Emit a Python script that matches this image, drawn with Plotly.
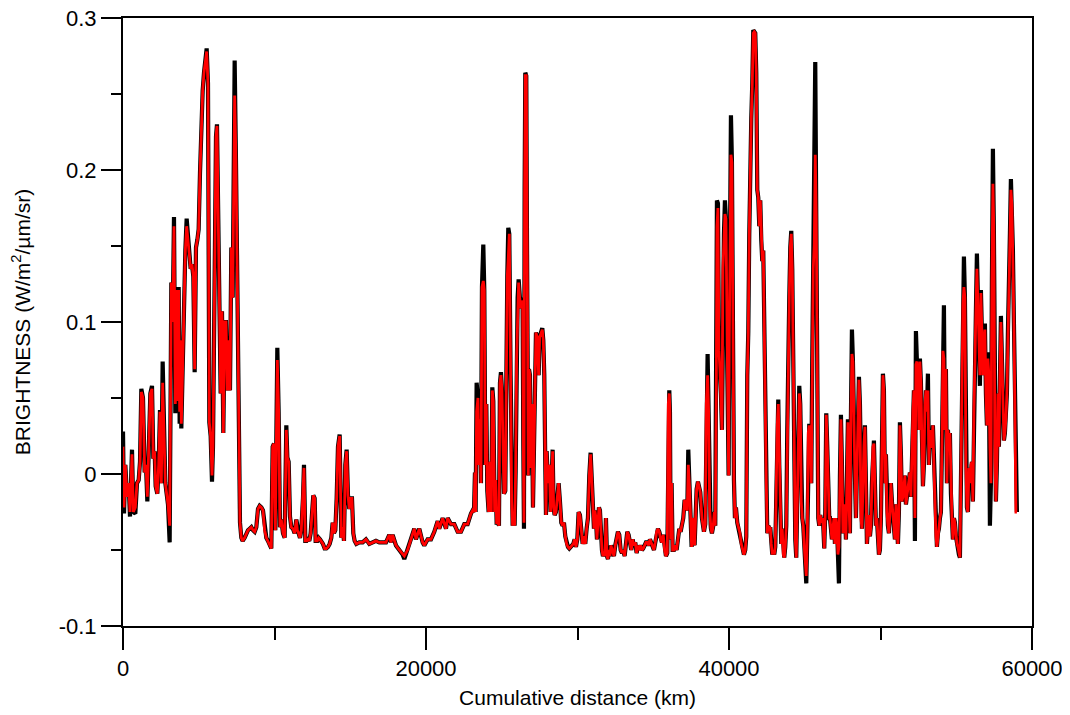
import plotly.graph_objects as go

# ---- data (cumulative distance in km, brightness values) ----
dist_1 = [0,66,154,264,374,462,594,682,814,924,1034,1122,1210,1320,1430,1518,1606,1716,1804,1914,2002,2090,2156,2266,2354,2442,2530,2618,2706,2794,2882,2970,3080,3190,3278,3366,3454,3542,3608,3674,3740,3806,3850,3938,4026,4114,4202,4290,4378,4466,4554,4642,4730,4818,4906,4994,5082,5170,5258,5346,5434,5522,5610,5654,5698,5786,5874,5940,6050,6138,6204,6270,6358,6446,6534,6622,6710,6798,6886,6974,7062,7150,7238,7326,7370,7458,7524,7590]
red_1 = [0.018,-0.022,0.006,-0.015,-0.006,-0.025,0.013,-0.025,-0.022,-0.006,-0.004,0.008,0.054,0.050,0.001,0.006,-0.015,0.027,0.053,0.056,0.010,0.015,-0.008,-0.013,0.006,0.041,-0.006,0.060,0.020,-0.006,-0.013,-0.020,-0.034,0.126,0.100,0.163,0.046,0.121,0.048,0.121,0.041,0.088,0.033,0.076,0.121,0.147,0.163,0.154,0.140,0.135,0.138,0.130,0.069,0.149,0.154,0.161,0.198,0.229,0.252,0.264,0.273,0.278,0.257,0.160,0.034,0.025,-0.001,0.018,0.158,0.222,0.229,0.182,0.093,0.053,0.107,0.027,0.100,0.100,0.055,0.088,0.055,0.149,0.116,0.205,0.249,0.205,0.150,0.109]
black_1 = [0.028,-0.026,0.006,-0.015,-0.006,-0.028,0.016,-0.025,-0.026,-0.006,-0.004,0.008,0.056,0.050,0.001,0.006,-0.018,0.027,0.053,0.058,0.010,0.015,-0.008,-0.013,0.006,0.042,-0.006,0.074,0.020,-0.006,-0.013,-0.020,-0.045,0.126,0.100,0.169,0.040,0.121,0.048,0.123,0.033,0.088,0.030,0.076,0.121,0.147,0.168,0.154,0.140,0.135,0.138,0.130,0.067,0.149,0.154,0.161,0.198,0.229,0.252,0.264,0.273,0.280,0.257,0.160,0.034,0.025,-0.005,0.018,0.158,0.222,0.230,0.182,0.093,0.053,0.107,0.027,0.100,0.100,0.055,0.088,0.055,0.149,0.116,0.205,0.272,0.205,0.150,0.117]

dist_2 = [7656,7722,7810,7898,8030,8140,8250,8360,8470,8580,8690,8800,8910,9020,9130,9240,9350,9460,9570,9680,9790,9878,9966,10054,10120,10186,10274,10362,10450,10560,10670,10780,10846,10934,11022,11110,11220,11330,11440,11506,11594,11682,11770,11880,11946,12034,12122,12210,12298,12386,12474,12562,12650,12716,12826,12914,13002,13090,13200,13310,13420,13530,13640,13750,13838,13926,14014,14102,14190,14300,14410,14498,14586,14674,14762,14850,14938,15026,15114,15202,15290,15400]
red_2 = [0.041,-0.032,-0.042,-0.044,-0.042,-0.039,-0.037,-0.036,-0.035,-0.037,-0.038,-0.035,-0.023,-0.021,-0.022,-0.024,-0.037,-0.042,-0.044,-0.046,-0.049,0.018,0.020,-0.037,0.006,0.075,0.041,-0.035,-0.030,-0.039,-0.042,0.029,0.011,0.008,-0.028,-0.035,-0.036,-0.039,-0.030,-0.037,-0.039,-0.042,-0.037,-0.016,0.004,-0.044,-0.044,-0.043,-0.044,-0.039,-0.028,-0.014,-0.016,-0.044,-0.044,-0.042,-0.043,-0.044,-0.046,-0.049,-0.049,-0.048,-0.046,-0.042,-0.032,-0.039,-0.037,-0.016,0.018,0.025,-0.042,-0.035,-0.044,0.006,0.015,-0.014,-0.023,-0.016,-0.016,-0.039,-0.044,-0.046]
black_2 = [0.041,-0.032,-0.042,-0.044,-0.042,-0.039,-0.037,-0.036,-0.035,-0.037,-0.038,-0.035,-0.023,-0.021,-0.022,-0.024,-0.037,-0.042,-0.044,-0.046,-0.049,0.018,0.020,-0.037,0.006,0.083,0.041,-0.035,-0.030,-0.039,-0.042,0.032,0.011,0.008,-0.028,-0.035,-0.036,-0.039,-0.030,-0.037,-0.039,-0.042,-0.037,-0.016,0.006,-0.044,-0.044,-0.043,-0.044,-0.039,-0.028,-0.014,-0.016,-0.044,-0.044,-0.042,-0.043,-0.044,-0.046,-0.049,-0.049,-0.048,-0.046,-0.042,-0.032,-0.039,-0.037,-0.016,0.018,0.026,-0.042,-0.035,-0.044,0.006,0.016,-0.014,-0.023,-0.016,-0.016,-0.039,-0.044,-0.046]

dist_3 = [15598,15818,16038,16258,16478,16698,16918,17138,17358,17578,17688,17798,18018,18238,18458,18568,18788,19008,19228,19338,19558,19778,19888,20108,20328,20548,20768,20878,21098,21318,21428,21648,21868,22088,22308,22528,22748,22968,23078]
red_3 = [-0.045,-0.045,-0.043,-0.046,-0.045,-0.044,-0.045,-0.045,-0.045,-0.040,-0.045,-0.040,-0.047,-0.050,-0.053,-0.054,-0.050,-0.043,-0.036,-0.043,-0.036,-0.045,-0.047,-0.043,-0.043,-0.038,-0.031,-0.036,-0.029,-0.036,-0.029,-0.033,-0.033,-0.038,-0.038,-0.033,-0.033,-0.026,-0.024]
black_3 = [-0.045,-0.045,-0.043,-0.046,-0.045,-0.044,-0.045,-0.045,-0.045,-0.040,-0.045,-0.040,-0.047,-0.050,-0.053,-0.056,-0.050,-0.043,-0.036,-0.043,-0.036,-0.045,-0.047,-0.043,-0.043,-0.038,-0.031,-0.036,-0.029,-0.036,-0.029,-0.033,-0.033,-0.038,-0.038,-0.033,-0.033,-0.026,-0.024]

dist_4 = [23166,23232,23276,23342,23430,23496,23562,23628,23694,23782,23848,23914,23980,24046,24134,24222,24310,24376,24442,24530,24596,24662,24750,24816,24882,24948,25014,25080,25146,25234,25300,25366,25432,25498,25586,25652,25718,25784,25850,25916,25982,26048,26114,26180,26246,26312,26378,26422,26466,26510,26554,26620,26664,26708,26752,26796,26862,26928,26994,27060,27126,27192,27258,27346,27434,27500,27588,27676,27742,27808,27874,27918,27962,28050,28138,28226,28292,28358,28424,28490,28578,28666,28754,28842,28930,29018,29106,29194,29282,29370,29458,29546,29634,29722,29810,29898,29986,30074,30162,30250,30338,30426,30514,30602,30690,30778,30866,30954,31042]
red_4 = [-0.025,0.001,-0.025,0.041,0.050,0.006,0.036,-0.006,0.123,0.127,0.121,0.006,0.046,-0.011,-0.025,0.008,-0.025,0.055,0.048,-0.025,-0.004,-0.032,-0.032,-0.034,0.060,0.065,0.055,0.006,-0.013,-0.011,0.081,0.130,0.142,0.158,0.065,-0.018,-0.034,-0.025,-0.034,0.001,0.076,0.116,0.126,0.116,0.109,0.114,0.112,0.022,-0.032,0.187,0.262,0.262,0.158,0.062,-0.001,0.069,0.065,0.004,0.046,-0.022,0.029,0.072,0.093,0.090,0.065,0.090,0.093,0.095,0.088,0.065,0.006,-0.027,0.015,-0.006,0.006,-0.025,-0.006,0.015,-0.022,-0.027,-0.025,-0.015,-0.006,-0.018,-0.032,-0.034,-0.032,-0.041,-0.046,-0.048,-0.049,-0.048,-0.047,-0.046,-0.043,-0.048,-0.043,-0.025,-0.027,-0.039,-0.046,-0.041,-0.046,-0.036,-0.029,-0.001,0.013,-0.006,-0.029]
black_4 = [-0.025,0.001,-0.025,0.060,0.050,0.006,0.036,-0.006,0.123,0.151,0.121,0.006,0.046,-0.011,-0.025,0.008,-0.025,0.057,0.048,-0.025,-0.004,-0.032,-0.032,-0.034,0.060,0.067,0.055,0.006,-0.013,-0.011,0.081,0.130,0.162,0.158,0.065,-0.018,-0.034,-0.025,-0.034,0.001,0.076,0.116,0.128,0.116,0.109,0.116,0.112,0.022,-0.036,0.187,0.264,0.262,0.158,0.062,-0.001,0.069,0.065,0.004,0.046,-0.022,0.029,0.072,0.093,0.090,0.065,0.090,0.093,0.096,0.088,0.065,0.006,-0.027,0.015,-0.006,0.006,-0.025,-0.006,0.016,-0.022,-0.027,-0.025,-0.015,-0.006,-0.018,-0.032,-0.034,-0.032,-0.041,-0.046,-0.048,-0.049,-0.048,-0.047,-0.046,-0.043,-0.048,-0.043,-0.025,-0.027,-0.039,-0.046,-0.041,-0.046,-0.036,-0.029,-0.001,0.014,-0.006,-0.029]

dist_5 = [31086,31152,31218,31284,31350,31416,31482,31548,31614,31680,31746,31812,31878,31944,32010,32076,32142,32208,32274,32340,32406,32494,32582,32670,32758,32846,32934,33022,33110,33198,33286,33374,33462,33550,33638,33726,33814,33902,33990,34078,34166,34254,34342,34430,34518,34606,34694,34782,34870,34958,35046,35134,35222,35310,35398,35486,35574,35662,35750,35838,35926,35992,36058,36102,36146,36212,36278,36366,36454,36542,36630,36718,36806,36894,36982,37070,37158,37246,37312,37400,37466,37532,37598,37664,37730,37796,37862,37950,38038,38104,38214,38346,38434,38500,38588,38654,38720,38786]
red_5 = [-0.036,-0.024,-0.029,-0.043,-0.033,-0.022,-0.024,-0.040,-0.050,-0.054,-0.052,-0.054,-0.029,-0.054,-0.056,-0.050,-0.054,-0.047,-0.050,-0.052,-0.054,-0.047,-0.043,-0.038,-0.040,-0.050,-0.052,-0.050,-0.054,-0.043,-0.038,-0.040,-0.045,-0.050,-0.043,-0.047,-0.045,-0.052,-0.047,-0.050,-0.047,-0.050,-0.049,-0.047,-0.045,-0.045,-0.047,-0.043,-0.045,-0.047,-0.050,-0.045,-0.038,-0.036,-0.038,-0.043,-0.045,-0.040,-0.050,-0.054,-0.052,0.046,0.053,0.041,-0.043,-0.006,-0.050,-0.050,-0.047,-0.050,-0.043,-0.036,-0.038,-0.033,-0.029,-0.017,-0.022,-0.024,0.006,-0.010,-0.026,-0.048,-0.029,-0.033,-0.047,-0.022,-0.010,-0.005,-0.010,-0.012,-0.029,-0.038,-0.033,0.046,0.065,0.041,-0.022,-0.033]
black_5 = [-0.036,-0.024,-0.029,-0.043,-0.033,-0.022,-0.024,-0.040,-0.050,-0.054,-0.052,-0.054,-0.029,-0.054,-0.056,-0.050,-0.054,-0.047,-0.050,-0.052,-0.054,-0.047,-0.043,-0.038,-0.040,-0.050,-0.052,-0.050,-0.054,-0.043,-0.038,-0.040,-0.045,-0.050,-0.043,-0.047,-0.045,-0.052,-0.047,-0.050,-0.047,-0.050,-0.049,-0.047,-0.045,-0.045,-0.047,-0.043,-0.045,-0.047,-0.050,-0.045,-0.038,-0.036,-0.038,-0.043,-0.045,-0.040,-0.050,-0.054,-0.052,0.046,0.055,0.041,-0.043,-0.006,-0.050,-0.050,-0.047,-0.050,-0.043,-0.036,-0.038,-0.033,-0.029,-0.017,-0.022,-0.024,0.016,-0.010,-0.026,-0.048,-0.029,-0.033,-0.047,-0.022,-0.010,-0.005,-0.010,-0.012,-0.029,-0.038,-0.033,0.046,0.079,0.041,-0.022,-0.033]

dist_6 = [38808,38874,38962,39028,39094,39160,39204,39270,39336,39402,39468,39534,39600,39666,39732,39798,39864,39930,39974,40018,40084,40128,40194,40238,40282,40326,40392,40458,40546,40634,40722,40810,40898,40986,41074,41140,41206,41272,41338,41404,41470,41536,41602,41668,41734,41800,41866,41932,41998,42064,42130,42196,42262,42328,42394,42460,42526,42592,42658,42724,42790,42856,42922,42988,43054,43120,43186,43252,43318,43384,43450,43516,43582,43648,43714,43780,43846,43912,43978,44044,44110,44176,44242,44308,44374,44440,44506,44572,44638,44704,44770,44836,44902,44968,45034,45100,45166,45232,45298,45364,45430,45496,45562,45628,45694,45760,45826,45892,45958,46024,46090,46156,46222,46288,46354,46420,46486,46552,46618]
red_6 = [-0.036,-0.039,-0.034,-0.025,-0.034,0.053,0.163,0.175,0.081,0.069,0.053,0.029,0.135,0.158,0.171,0.168,0.088,0.046,-0.001,0.088,0.187,0.210,0.205,0.123,0.011,-0.004,-0.029,-0.022,-0.032,-0.036,-0.039,-0.046,-0.050,-0.053,-0.050,-0.041,0.065,0.093,0.158,0.210,0.234,0.257,0.290,0.291,0.290,0.264,0.187,0.182,0.163,0.180,0.154,0.140,0.147,0.088,0.041,-0.006,-0.039,-0.034,-0.036,-0.035,-0.046,-0.053,-0.050,-0.053,-0.048,-0.006,0.032,0.046,0.006,-0.034,-0.046,-0.036,-0.053,-0.055,-0.048,-0.034,0.029,0.093,0.116,0.149,0.158,0.135,0.065,0.018,-0.043,-0.055,-0.022,0.018,0.053,0.046,-0.018,-0.029,-0.034,-0.048,-0.058,-0.067,-0.041,0.027,0.032,0.020,-0.006,0.076,0.135,0.151,0.210,0.170,0.065,-0.029,-0.034,-0.027,-0.032,-0.029,-0.034,-0.049,-0.025,0.039,0.018,-0.018,-0.029]
black_6 = [-0.036,-0.039,-0.034,-0.025,-0.034,0.053,0.180,0.178,0.081,0.069,0.053,0.029,0.135,0.158,0.180,0.168,0.088,0.046,-0.001,0.088,0.187,0.236,0.205,0.123,0.011,-0.004,-0.029,-0.022,-0.032,-0.036,-0.039,-0.046,-0.050,-0.053,-0.050,-0.041,0.065,0.093,0.158,0.210,0.234,0.257,0.292,0.291,0.290,0.264,0.187,0.182,0.163,0.180,0.154,0.140,0.147,0.088,0.041,-0.006,-0.039,-0.034,-0.036,-0.035,-0.046,-0.053,-0.050,-0.053,-0.048,-0.006,0.032,0.049,0.006,-0.034,-0.046,-0.036,-0.053,-0.055,-0.048,-0.034,0.029,0.093,0.116,0.149,0.160,0.135,0.065,0.018,-0.043,-0.055,-0.022,0.018,0.058,0.046,-0.018,-0.029,-0.034,-0.048,-0.058,-0.072,-0.041,0.027,0.033,0.020,-0.006,0.076,0.135,0.194,0.271,0.170,0.065,-0.029,-0.034,-0.027,-0.032,-0.029,-0.034,-0.049,-0.025,0.040,0.018,-0.018,-0.029]

dist_7 = [46662,46728,46794,46860,46926,46992,47058,47124,47190,47256,47322,47388,47454,47520,47586,47652,47718,47784,47850,47916,47982,48048,48114,48180,48246,48312,48378,48444,48510,48576,48642,48708,48774,48840,48906,48972,49038,49104,49170,49236,49302,49368,49434,49500,49566,49632,49698,49764,49830,49896,49962,50028,50094,50160,50226,50292,50358,50424,50490,50556,50622,50688,50754,50820,50886,50952,51018,51084,51150,51216,51282,51348,51414,51480,51546,51612,51678,51744,51810,51876,51942,52008,52074,52140,52206,52272,52338,52404,52470,52536,52602,52668,52734,52800,52866,52932,52998,53064,53130,53196,53262,53328,53394,53460,53526,53592,53658,53724,53790,53856,53922,53988,54054,54120,54186,54252]
red_7 = [-0.029,-0.039,-0.043,-0.036,-0.029,-0.046,-0.029,-0.034,-0.053,-0.048,-0.001,0.036,0.006,-0.039,-0.025,-0.020,-0.043,-0.006,0.034,-0.018,-0.039,0.039,0.079,0.074,0.018,-0.001,-0.029,0.006,0.050,0.062,0.046,-0.029,-0.036,0.001,0.018,0.031,-0.006,-0.046,-0.034,-0.027,-0.041,-0.034,-0.006,0.018,0.020,-0.006,-0.034,-0.029,-0.048,-0.053,-0.050,-0.029,0.018,0.065,0.055,-0.006,0.013,-0.025,-0.034,-0.039,-0.025,-0.006,-0.018,-0.027,-0.039,-0.043,-0.020,-0.034,-0.046,-0.025,0.032,0.013,-0.018,-0.015,-0.006,-0.001,-0.020,-0.015,-0.011,-0.004,0.001,-0.015,0.018,0.041,0.055,-0.029,0.072,0.074,0.065,0.029,0.074,0.060,0.018,-0.008,0.006,0.046,0.055,0.041,0.055,0.006,0.029,0.018,0.018,0.032,0.006,-0.020,-0.041,-0.048,-0.039,-0.036,-0.029,-0.025,0.018,0.081,0.076,0.029]
black_7 = [-0.029,-0.039,-0.043,-0.036,-0.029,-0.046,-0.029,-0.034,-0.053,-0.072,-0.001,0.039,0.006,-0.039,-0.025,-0.020,-0.043,-0.006,0.036,-0.018,-0.039,0.039,0.095,0.074,0.018,-0.001,-0.029,0.006,0.050,0.064,0.046,-0.029,-0.036,0.001,0.018,0.032,-0.006,-0.046,-0.034,-0.027,-0.041,-0.034,-0.006,0.018,0.022,-0.006,-0.034,-0.029,-0.048,-0.053,-0.050,-0.029,0.018,0.066,0.055,-0.006,0.013,-0.025,-0.034,-0.039,-0.025,-0.006,-0.018,-0.027,-0.039,-0.043,-0.020,-0.034,-0.046,-0.025,0.034,0.013,-0.018,-0.015,-0.006,-0.001,-0.020,-0.015,-0.011,-0.004,0.001,-0.015,0.018,0.041,0.055,-0.044,0.094,0.074,0.065,0.029,0.076,0.060,0.018,-0.008,0.006,0.046,0.055,0.041,0.066,0.006,0.029,0.018,0.018,0.032,0.006,-0.020,-0.041,-0.048,-0.039,-0.036,-0.029,-0.025,0.018,0.081,0.111,0.029]

dist_8 = [54318,54384,54450,54516,54582,54648,54714,54780,54846,54912,54978,55044,55110,55176,55242,55308,55374,55440,55506,55572,55638,55704,55770,55836,55902,55968,56034,56100,56166,56232,56298,56364,56430,56496,56562,56628,56694,56760,56826,56892,56958,57024,57090,57156,57222,57288,57354,57420,57486,57552,57618,57684,57750,57816,57882,57948,58014,58080,58146,58212,58278,58344,58410,58476,58542,58608,58674,58740,58806,58872,58938,59004]
red_8 = [0.069,-0.006,0.029,0.018,0.027,-0.013,-0.029,-0.043,-0.029,-0.032,-0.041,-0.046,-0.048,-0.053,-0.055,-0.001,0.065,0.111,0.123,0.116,0.004,-0.022,-0.025,0.004,-0.006,0.006,0.008,-0.018,0.041,0.065,0.107,0.135,0.116,0.088,0.065,0.119,0.083,0.065,0.088,0.095,0.053,0.032,0.076,0.065,0.018,-0.006,0.128,0.191,0.158,0.008,-0.018,0.006,0.053,0.018,0.065,0.100,0.076,0.041,0.022,0.027,0.036,0.053,0.093,0.116,0.158,0.187,0.177,0.147,0.100,0.041,-0.025,-0.025]
black_8 = [0.069,-0.006,0.029,0.018,0.027,-0.013,-0.029,-0.043,-0.029,-0.032,-0.041,-0.046,-0.048,-0.053,-0.055,-0.001,0.065,0.111,0.143,0.116,0.004,-0.022,-0.025,0.004,-0.006,0.006,0.008,-0.018,0.041,0.065,0.107,0.145,0.116,0.088,0.058,0.121,0.083,0.065,0.088,0.099,0.053,0.032,0.080,0.065,-0.034,-0.006,0.128,0.214,0.158,0.008,-0.018,0.006,0.053,0.018,0.065,0.104,0.076,0.041,0.022,0.027,0.036,0.053,0.093,0.116,0.158,0.194,0.177,0.147,0.100,0.041,-0.025,-0.025]

x_tick_vals = [0, 20000, 40000, 60000]
x_tick_text = ["0", "20000", "40000", "60000"]
y_tick_vals = [-0.1, 0.0, 0.1, 0.2, 0.3]
y_tick_text = ["-0.1", "0", "0.1", "0.2", "0.3"]

x_title = "Cumulative distance (km)"
y_title = "BRIGHTNESS (W/m<sup>2</sup>/\u00b5m/sr)"

# ---- assemble ----
segments = [
    (dist_1, red_1, black_1), (dist_2, red_2, black_2), (dist_3, red_3, black_3),
    (dist_4, red_4, black_4), (dist_5, red_5, black_5), (dist_6, red_6, black_6),
    (dist_7, red_7, black_7), (dist_8, red_8, black_8),
]
distance, red_series, black_series = [], [], []
for i, (d, r, b) in enumerate(segments):
    assert len(d) == len(r) == len(b), (i, len(d), len(r), len(b))
    distance += d
    red_series += r
    black_series += b

FONT = "Liberation Sans, Arial, sans-serif"

fig = go.Figure()
fig.add_trace(go.Scatter(x=distance, y=black_series, mode="lines",
                         line=dict(color="#000000", width=4.2), showlegend=False))
fig.add_trace(go.Scatter(x=distance, y=red_series, mode="lines",
                         line=dict(color="#ff0000", width=2.8), showlegend=False))

axis_common = dict(
    showgrid=False, zeroline=False, showline=True, linecolor="black", linewidth=2,
    ticks="outside", tickcolor="black", tickwidth=2, automargin=False, mirror=True,
    ticklabeloverflow="allow",
    tickfont=dict(family=FONT, size=22, color="black"),
)

# the page body adds an 8 px offset, so the figure is sized to fit the window
fig.update_layout(
    width=1062, height=707,
    margin=dict(l=115, r=38, t=10, b=89),
    paper_bgcolor="white", plot_bgcolor="white",
    font=dict(family=FONT, color="black"),
    xaxis=dict(
        range=[0, 60000], tickmode="array", tickvals=x_tick_vals, ticktext=x_tick_text,
        ticklen=22,
        minor=dict(tickmode="linear", tick0=0, dtick=10000, ticks="outside",
                   ticklen=12, tickwidth=2, tickcolor="black"),
        title=dict(text=x_title, font=dict(family=FONT, size=21), standoff=10),
        **axis_common,
    ),
    yaxis=dict(
        range=[-0.1, 0.3], tickmode="array", tickvals=y_tick_vals, ticktext=y_tick_text,
        ticklen=20,
        minor=dict(tickmode="linear", tick0=0, dtick=0.05, ticks="outside",
                   ticklen=10, tickwidth=2, tickcolor="black"),
        title=dict(text=y_title, font=dict(family=FONT, size=21), standoff=30),
        **axis_common,
    ),
)

fig.write_html("out.html")
